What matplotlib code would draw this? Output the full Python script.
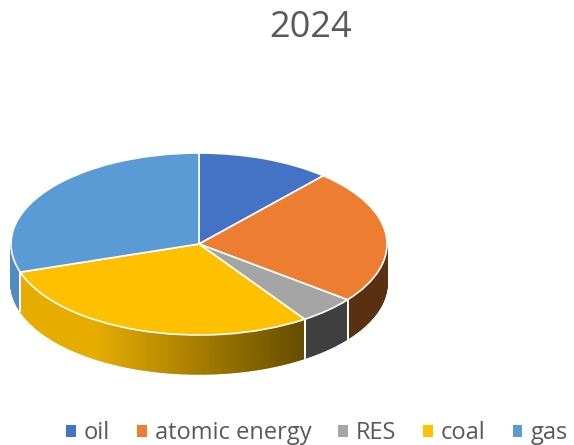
import numpy as np
import matplotlib
matplotlib.use("Agg")
import matplotlib.pyplot as plt
from matplotlib.colors import to_rgb

plt.rcParams['font.family'] = ['Open Sans', 'DejaVu Sans']

# data
labels = ["oil", "atomic energy", "RES", "coal", "gas"]
values = [11.5, 24, 5, 29.5, 30]
colors = ["#4472C4", "#ED7D31", "#A5A5A5", "#FFC000", "#5B9BD5"]
title = "2024"
text_color = "#595959"

# pie geometry in pixels of the 574x445 picture
cx, cy = 199, 244
rx, ry = 188, 91
depth = 39 / ry

fig = plt.figure(figsize=(5.74, 4.45), dpi=100)
ax = fig.add_axes([0, 0, 1, 1])

# top face
wedges, _ = ax.pie(values, colors=colors, startangle=90, counterclock=False,
                   wedgeprops=dict(edgecolor="white", linewidth=1.2, zorder=3))

# side wall, only the front half (90..270 deg clockwise from top) can be seen
edges = np.cumsum([0] + values) / sum(values) * 360
for i, col in enumerate(colors):
    a0 = max(edges[i], 90)
    a1 = min(edges[i + 1], 270)
    if a1 <= a0:
        continue
    steps = np.linspace(a0, a1, int(a1 - a0) * 2 + 2)
    base = np.array(to_rgb(col))
    for s0, s1 in zip(steps[:-1], steps[1:]):
        x0, y0 = np.sin(np.radians(s0)), np.cos(np.radians(s0))
        x1, y1 = np.sin(np.radians(s1)), np.cos(np.radians(s1))
        shade = np.clip(0.65 - 0.45 * (x0 + x1) / 2, 0.38, 0.9)
        ax.fill([x0, x1, x1, x0], [y0, y1, y1 - depth, y0 - depth],
                facecolor=base * shade, edgecolor=base * shade, lw=1.0, zorder=1)
    # white seam between neighbouring slices
    for a in (a0, a1):
        if 90 < a < 270:
            xa, ya = np.sin(np.radians(a)), np.cos(np.radians(a))
            ax.plot([xa, xa], [ya, ya - depth], color="white", lw=1.2, zorder=2)

ax.set_aspect("auto")
ax.set_xlim(-cx / rx, (574 - cx) / rx)
ax.set_ylim(-(445 - cy) / ry, cy / ry)
ax.axis("off")

fig.text(311 / 574, 1 - 28 / 445, title, fontsize=26, color=text_color,
         ha="center", va="center")

leg = fig.legend(wedges, labels, ncol=5, frameon=False, fontsize=17,
                 loc="center", bbox_to_anchor=(317 / 574, 1 - 433 / 445),
                 handlelength=0.4, handleheight=0.4, handletextpad=0.35,
                 columnspacing=1.14, labelcolor=text_color, borderpad=0)
for h in leg.legend_handles:
    h.set_edgecolor("none")

fig.savefig("out.png", dpi=100)
